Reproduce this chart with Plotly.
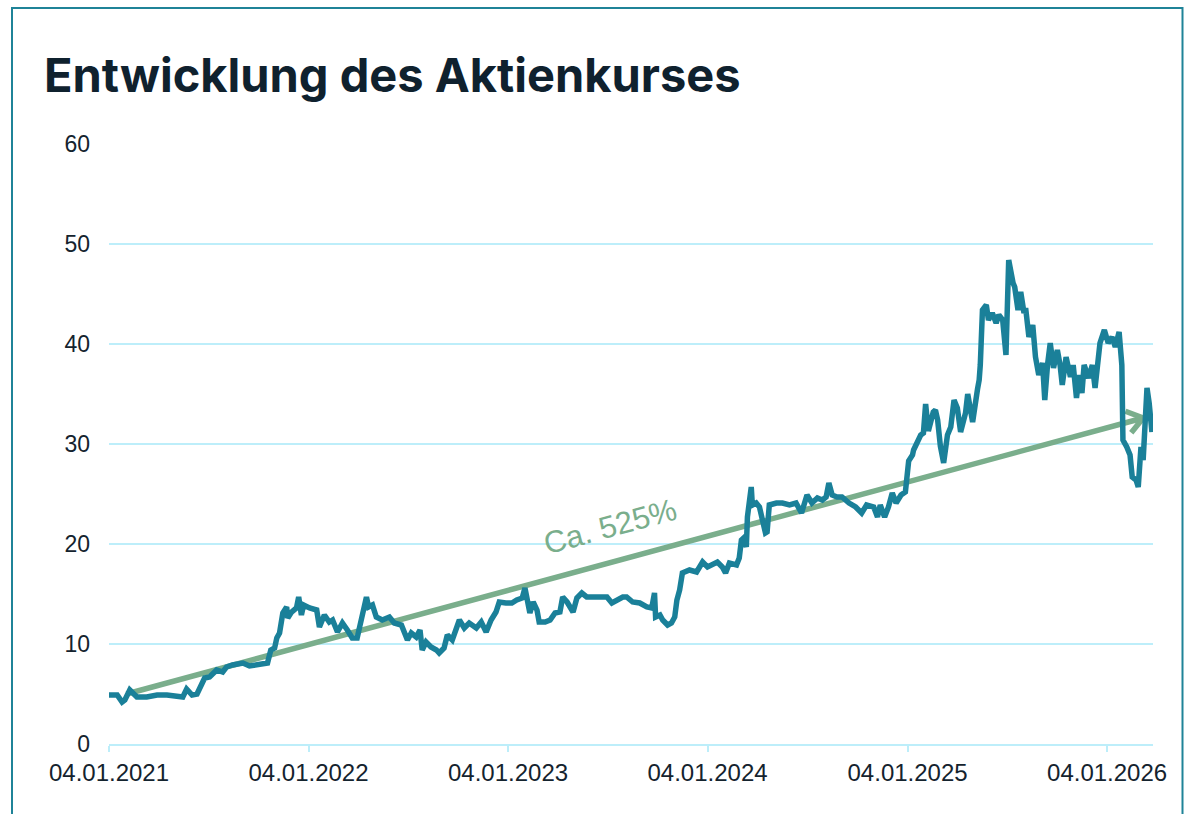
import math
import pandas as pd
import plotly.graph_objects as go

# ---------------- data ----------------
dates = [
    "2021-01-04", "2021-01-19", "2021-01-28", "2021-02-02", "2021-02-11", "2021-02-24", "2021-03-14",
    "2021-04-02", "2021-04-20", "2021-05-08", "2021-05-19", "2021-05-26", "2021-06-05", "2021-06-14",
    "2021-06-23", "2021-06-28", "2021-07-07", "2021-07-20", "2021-07-31", "2021-08-07", "2021-08-18",
    "2021-09-06", "2021-09-18", "2021-10-01", "2021-10-12", "2021-10-21", "2021-10-27", "2021-11-03",
    "2021-11-07", "2021-11-12", "2021-11-18", "2021-11-25", "2021-11-27", "2021-12-04", "2021-12-13",
    "2021-12-17", "2021-12-22", "2021-12-26",
    "2022-01-06", "2022-01-19", "2022-01-24", "2022-02-02", "2022-02-11", "2022-02-17", "2022-02-26",
    "2022-03-07", "2022-03-16", "2022-03-25", "2022-04-03", "2022-04-13", "2022-04-20", "2022-04-24",
    "2022-05-01", "2022-05-08", "2022-05-19", "2022-06-01", "2022-06-10", "2022-06-23", "2022-06-28",
    "2022-07-04", "2022-07-11", "2022-07-20", "2022-07-27", "2022-07-31", "2022-08-07", "2022-08-16",
    "2022-08-26", "2022-08-31", "2022-09-09", "2022-09-15", "2022-09-24", "2022-10-07", "2022-10-16",
    "2022-10-25", "2022-11-07", "2022-11-16", "2022-11-25", "2022-12-04", "2022-12-13", "2022-12-19",
    "2022-12-31",
    "2023-01-11", "2023-01-20", "2023-01-30", "2023-02-04", "2023-02-08", "2023-02-13", "2023-02-19",
    "2023-02-26", "2023-03-02", "2023-03-13", "2023-03-22", "2023-03-31", "2023-04-09", "2023-04-14",
    "2023-04-22", "2023-04-27", "2023-05-03", "2023-05-10", "2023-05-19", "2023-05-28", "2023-06-08",
    "2023-06-21", "2023-07-04", "2023-07-13", "2023-07-22", "2023-08-02", "2023-08-09", "2023-08-20",
    "2023-09-02", "2023-09-15", "2023-09-24", "2023-09-29", "2023-10-01", "2023-10-09", "2023-10-14",
    "2023-10-23", "2023-10-30", "2023-11-05", "2023-11-09", "2023-11-14", "2023-11-19", "2023-12-02",
    "2023-12-15", "2023-12-26",
    "2024-01-04", "2024-01-13", "2024-01-22", "2024-01-31", "2024-02-06", "2024-02-13", "2024-02-26",
    "2024-03-02", "2024-03-06", "2024-03-10", "2024-03-15", "2024-03-17", "2024-03-24", "2024-03-26",
    "2024-04-02", "2024-04-08", "2024-04-13", "2024-04-19", "2024-04-22", "2024-04-26", "2024-05-09",
    "2024-05-20", "2024-06-02", "2024-06-14", "2024-06-24", "2024-06-29", "2024-07-04", "2024-07-13",
    "2024-07-23", "2024-08-01", "2024-08-08", "2024-08-13", "2024-08-19", "2024-08-28", "2024-09-06",
    "2024-09-19", "2024-10-01", "2024-10-12", "2024-10-21", "2024-11-03", "2024-11-10", "2024-11-15",
    "2024-11-23", "2024-11-30", "2024-12-07", "2024-12-14", "2024-12-23", "2024-12-31",
    "2025-01-06", "2025-01-13", "2025-01-15", "2025-01-22", "2025-01-28", "2025-02-02", "2025-02-06",
    "2025-02-11", "2025-02-20", "2025-02-24", "2025-02-28", "2025-03-05", "2025-03-11", "2025-03-18",
    "2025-03-24", "2025-03-30", "2025-04-05", "2025-04-11", "2025-04-20", "2025-04-24", "2025-05-03",
    "2025-05-12", "2025-05-15", "2025-05-17", "2025-05-21", "2025-05-28", "2025-06-01", "2025-06-08",
    "2025-06-15", "2025-06-20", "2025-06-27", "2025-07-03", "2025-07-08", "2025-07-16", "2025-07-19",
    "2025-07-25", "2025-07-30", "2025-08-05", "2025-08-08", "2025-08-14", "2025-08-21", "2025-08-26",
    "2025-09-01", "2025-09-08", "2025-09-12", "2025-09-17", "2025-09-22", "2025-09-28", "2025-10-05",
    "2025-10-10", "2025-10-14", "2025-10-21", "2025-10-29", "2025-11-03", "2025-11-09", "2025-11-14",
    "2025-11-19", "2025-11-23", "2025-12-01", "2025-12-08", "2025-12-13", "2025-12-22", "2025-12-30",
    "2026-01-06", "2026-01-13", "2026-01-19", "2026-01-26", "2026-01-31", "2026-02-02", "2026-02-09",
    "2026-02-15", "2026-02-19", "2026-02-26", "2026-03-02", "2026-03-07", "2026-03-11", "2026-03-18",
    "2026-03-22", "2026-03-27",
]

prices = [
    4.9, 4.9, 4.2, 4.4, 5.4, 4.7, 4.7,
    4.9, 4.9, 4.8, 4.7, 5.5, 4.9, 5.0,
    5.9, 6.6, 6.7, 7.4, 7.2, 7.7, 7.9,
    8.1, 7.8, 7.9, 7.9, 8.1, 9.4, 9.6,
    10.6, 11.1, 13.1, 13.7, 12.6, 13.2, 13.6,
    14.7, 12.9, 13.9,
    13.6, 13.4, 11.7, 12.9, 12.2, 12.4, 11.2,
    12.1, 11.4, 10.6, 10.6, 13.1, 14.7, 13.7,
    13.9, 12.7, 12.4, 12.7, 12.1, 11.9, 11.2,
    10.4, 11.1, 10.7, 11.4, 9.4, 10.2, 9.7,
    9.4, 9.1, 9.6, 10.9, 10.4, 12.4, 11.6,
    12.1, 11.6, 12.2, 11.2, 12.4, 13.2, 14.2,
    14.1,
    14.1, 14.4, 14.6, 15.6, 14.4, 13.1, 14.2,
    13.4, 12.2, 12.2, 12.4, 13.1, 13.2, 14.7,
    14.2, 13.7, 13.2, 14.6, 15.1, 14.7, 14.7,
    14.7, 14.7, 14.1, 14.4, 14.7, 14.7, 14.2,
    14.1, 13.7, 13.6, 15.1, 12.7, 12.9, 12.4,
    11.9, 12.1, 12.7, 14.4, 15.4, 17.1, 17.4,
    17.2, 18.2,
    17.7, 17.9, 18.2, 17.7, 17.1, 18.1, 17.9,
    18.6, 20.4, 20.6, 19.7, 22.7, 25.7, 23.9,
    24.1, 23.7, 22.7, 21.1, 21.2, 23.9, 24.1,
    24.1, 23.9, 24.1, 23.1, 24.1, 24.9, 24.1,
    24.6, 24.4, 24.7, 26.1, 24.9, 24.7, 24.7,
    24.1, 23.7, 23.1, 23.9, 23.7, 22.7, 23.9,
    22.7, 23.7, 25.1, 24.1, 24.9, 25.2,
    28.3, 28.9, 29.4, 30.2, 30.9, 31.1, 34.0,
    31.3, 33.2, 33.4, 32.4, 29.8, 28.1, 30.9,
    31.7, 34.4, 33.6, 31.2, 33.1, 35.0, 32.2,
    35.5, 36.4, 37.9, 43.4, 43.9, 42.4, 43.1,
    42.1, 42.9, 42.4, 38.9, 48.4, 46.1, 45.7,
    43.4, 45.2, 43.1, 43.6, 40.7, 41.9, 38.7,
    36.9, 38.1, 34.4, 37.9, 40.1, 37.6, 39.4,
    37.9, 35.9, 38.7, 36.7, 37.9, 34.6, 36.9,
    35.1, 37.9, 36.6, 37.9, 35.6, 40.1, 41.4,
    40.1, 40.7, 39.7, 41.2, 37.9, 30.4, 29.7,
    28.9, 26.7, 26.4, 25.7, 29.7, 28.4, 35.6,
    34.1, 31.2,
]

tick_dates = ["2021-01-04", "2022-01-04", "2023-01-04", "2024-01-04", "2025-01-04", "2026-01-04"]
tick_labels = ["04.01.2021", "04.01.2022", "04.01.2023", "04.01.2024", "04.01.2025", "04.01.2026"]
y_ticks = [0, 10, 20, 30, 40, 50, 60]

trend_start = ("2021-02-05", 5.0)
trend_end = ("2026-03-11", 32.6)
trend_label = "Ca. 525%"
trend_label_pos = ("2023-07-10", 21.8)

title_text = "Entwicklung des Aktienkurses"

# ---------------- layout geometry ----------------
W, H = 1186, 814
ML, MR, MT, MB = 109, 33, 144, 70
X_RANGE = ("2021-01-04", "2026-03-29")
Y_RANGE = (0, 60)

LINE_COLOR = "#1a8099"
GREEN = "#7aae8c"
GRID = "#bdeefa"
FRAME = "#1f8398"
TEXT_DARK = "#0f212e"

# pixel scale helpers for the arrow head
r0 = pd.Timestamp(X_RANGE[0])
r1 = pd.Timestamp(X_RANGE[1])
plot_w = W - ML - MR
plot_h = H - MT - MB
kx = plot_w / (r1 - r0).total_seconds()
ky = plot_h / (Y_RANGE[1] - Y_RANGE[0])


def to_px(d, v):
    return (pd.Timestamp(d) - r0).total_seconds() * kx, (v - Y_RANGE[0]) * ky


def from_px(px, py):
    return r0 + pd.Timedelta(seconds=px / kx), py / ky + Y_RANGE[0]


sx, sy = to_px(*trend_start)
tx, ty = to_px(*trend_end)
dx, dy = tx - sx, ty - sy
n = math.hypot(dx, dy)
bx, by = -dx / n, -dy / n
arm_len = 19
arm_ang = math.radians(36)
arms = []
for s in (1, -1):
    a = s * arm_ang
    rx = bx * math.cos(a) - by * math.sin(a)
    ry = bx * math.sin(a) + by * math.cos(a)
    arms.append(from_px(tx + arm_len * rx, ty + arm_len * ry))

angle = -math.degrees(math.atan2(dy, dx))

fig = go.Figure()

# trend arrow (behind the price line)
fig.add_trace(go.Scatter(
    x=[trend_start[0], trend_end[0]], y=[trend_start[1], trend_end[1]],
    mode="lines", line=dict(color=GREEN, width=5.5), hoverinfo="skip", showlegend=False,
))
fig.add_trace(go.Scatter(
    x=[arms[0][0], trend_end[0], arms[1][0]], y=[arms[0][1], trend_end[1], arms[1][1]],
    mode="lines", line=dict(color=GREEN, width=5.5), hoverinfo="skip", showlegend=False,
))

# price line
fig.add_trace(go.Scatter(
    x=dates, y=prices, mode="lines",
    line=dict(color=LINE_COLOR, width=5.5), showlegend=False,
))

fig.add_annotation(
    x=trend_label_pos[0], y=trend_label_pos[1], xref="x", yref="y",
    text=trend_label, showarrow=False, textangle=angle,
    font=dict(family="Liberation Sans, Arial, sans-serif", size=31, color=GREEN),
    xanchor="center", yanchor="middle",
)

# frame around the whole graphic
fig.add_shape(
    type="rect", xref="paper", yref="paper",
    x0=(12 - ML) / plot_w, x1=(1182.5 - ML) / plot_w,
    y0=(H - MB - 830) / plot_h, y1=(H - MB - 8) / plot_h,
    line=dict(color=FRAME, width=2), fillcolor="rgba(0,0,0,0)", layer="below",
)

fig.update_layout(
    width=W, height=H,
    margin=dict(l=ML, r=MR, t=MT, b=MB),
    paper_bgcolor="white", plot_bgcolor="white",
    title=dict(
        text=title_text, x=44 / W, xanchor="left", xref="container",
        y=1 - 76 / H, yanchor="middle", yref="container",
        font=dict(family="Inter, sans-serif", size=47, weight=700, color=TEXT_DARK),
    ),
    xaxis=dict(
        type="date", range=list(X_RANGE),
        tickvals=tick_dates, ticktext=tick_labels,
        showgrid=False, showline=True, linecolor=GRID, linewidth=2,
        ticks="outside", ticklen=6, tickwidth=2, tickcolor=GRID,
        tickfont=dict(family="Liberation Sans, Arial, sans-serif", size=24, color="#14232e"),
        zeroline=False, fixedrange=True,
    ),
    yaxis=dict(
        range=list(Y_RANGE), tickvals=y_ticks,
        showgrid=True, gridcolor=GRID, gridwidth=2,
        showline=False, zeroline=False, ticks="",
        ticklabelstandoff=18,
        tickfont=dict(family="Liberation Sans, Arial, sans-serif", size=23, color="#14232e"),
        fixedrange=True,
    ),
)

fig.write_html("out.html")
